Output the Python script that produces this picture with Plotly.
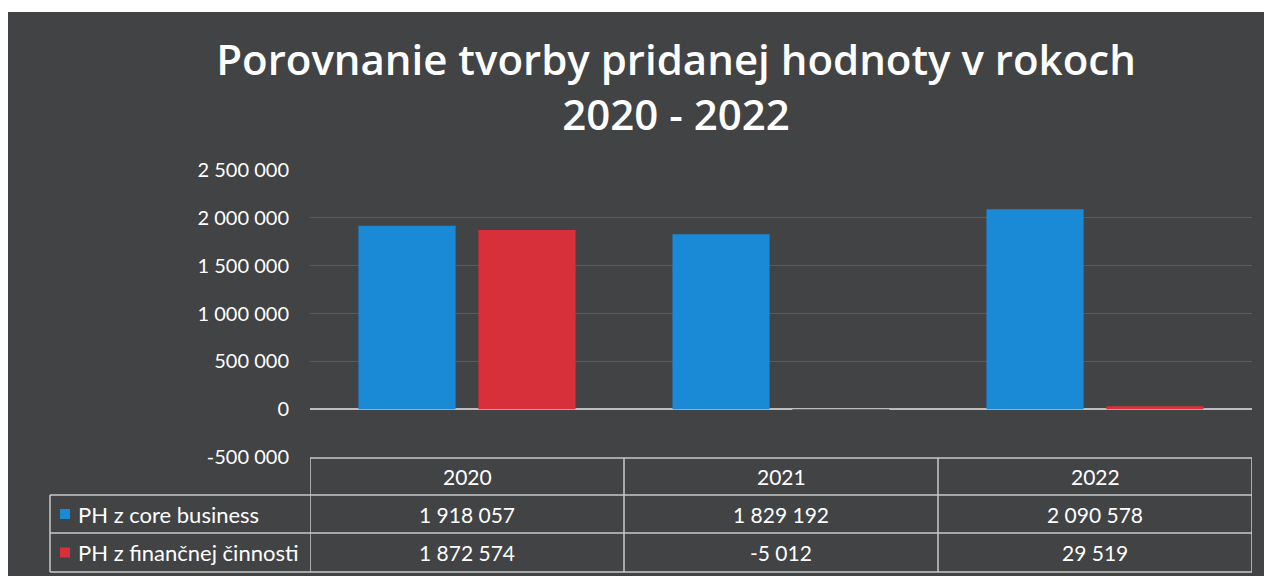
import plotly.graph_objects as go

# ---- data ----
years = ["2020", "2021", "2022"]
series_names = ["PH z core business", "PH z finančnej činnosti"]
core_business = [1918057, 1829192, 2090578]
financial = [1872574, -5012, 29519]
y_ticks = [-500000, 0, 500000, 1000000, 1500000, 2000000, 2500000]

title_text = "Porovnanie tvorby pridanej hodnoty v rokoch<br>2020 - 2022"

BLUE = "#1b8ad6"
RED = "#d8303b"
BG = "#414345"
FONT = "Lato"


def fmt(v):
    return f"{v:,}".replace(",", " ")


# page adds an 8px body margin, so the figure is laid out in (reference - 8) px
OFF = 8
W, H = 1264, 568
L, R, T, B = 302, 20, 162, 119
PW, PH_ = W - L - R, H - T - B


def px_x(px):
    return (px - OFF - L) / PW


def px_y(py):
    return (H - B - (py - OFF)) / PH_


fig = go.Figure()
fig.add_trace(go.Bar(x=years, y=core_business, name=series_names[0],
                     marker=dict(color=BLUE, line=dict(width=0))))
fig.add_trace(go.Bar(x=years, y=financial, name=series_names[1],
                     marker=dict(color=RED, line=dict(width=0))))

shapes = []
# dark background (scan area)
shapes.append(dict(type="rect", xref="paper", yref="paper",
                   x0=px_x(8), x1=px_x(1290), y0=px_y(600), y1=px_y(12),
                   fillcolor=BG, line=dict(width=0), layer="below"))

line_style = dict(color="#c8c8c8", width=1.5)
row_lines = [458, 495, 533, 572]
# horizontal table lines
shapes.append(dict(type="line", xref="x", yref="paper", x0=-0.5, x1=len(years) - 0.5,
                   y0=px_y(row_lines[0]), y1=px_y(row_lines[0]), line=line_style))
for ry in row_lines[1:]:
    shapes.append(dict(type="line", xref="paper", yref="paper", x0=px_x(50), x1=1,
                       y0=px_y(ry), y1=px_y(ry), line=line_style))
# vertical table lines
for i in range(len(years) + 1):
    shapes.append(dict(type="line", xref="x", yref="paper", x0=i - 0.5, x1=i - 0.5,
                       y0=px_y(row_lines[0]), y1=px_y(row_lines[-1]), line=line_style))
shapes.append(dict(type="line", xref="paper", yref="paper", x0=px_x(50), x1=px_x(50),
                   y0=px_y(row_lines[1]), y1=px_y(row_lines[-1]), line=line_style))

annotations = []
num_font = dict(family=FONT, size=21, color="white")
label_font = dict(family=FONT, size=22, color="white")
# header
for i, yr in enumerate(years):
    annotations.append(dict(x=i, y=px_y((row_lines[0] + row_lines[1]) / 2), xref="x", yref="paper",
                            text=yr, showarrow=False, font=num_font, xanchor="center", yanchor="middle"))
# rows
for r, (name, vals, col) in enumerate([(series_names[0], core_business, BLUE),
                                       (series_names[1], financial, RED)]):
    yc = (row_lines[r + 1] + row_lines[r + 2]) / 2
    annotations.append(dict(x=px_x(76), y=px_y(yc), xref="paper", yref="paper", text=name,
                            showarrow=False, font=label_font, xanchor="left", yanchor="middle"))
    shapes.append(dict(type="rect", xref="paper", yref="paper",
                       x0=px_x(60), x1=px_x(70), y0=px_y(yc + 5), y1=px_y(yc - 5),
                       fillcolor=col, line=dict(width=0)))
    for i, v in enumerate(vals):
        annotations.append(dict(x=i, y=px_y(yc), xref="x", yref="paper", text=fmt(v),
                                showarrow=False, font=num_font, xanchor="center", yanchor="middle"))

fig.update_layout(
    width=W, height=H,
    margin=dict(l=L, r=R, t=T, b=B, autoexpand=False),
    paper_bgcolor="white",
    plot_bgcolor="rgba(0,0,0,0)",
    showlegend=False,
    barmode="group",
    bargap=0.236,
    bargroupgap=0.19,
    title=dict(text=title_text, x=(676 - OFF) / W, xanchor="center", xref="container",
               y=1 - (75 - OFF) / H, yanchor="middle", yref="container",
               font=dict(family="Open Sans", size=42, color="white", weight=600)),
    font=dict(family=FONT, color="white"),
    xaxis=dict(range=[-0.5, len(years) - 0.5], showticklabels=False, showgrid=False,
               zeroline=False, showline=False, ticks=""),
    yaxis=dict(range=[y_ticks[0], y_ticks[-1]], tickvals=y_ticks,
               ticktext=[fmt(v) for v in y_ticks],
               showgrid=True, gridcolor="#595b5d", gridwidth=1,
               zeroline=True, zerolinecolor="#bdbdbd", zerolinewidth=2,
               showline=False, ticks="", ticklabelstandoff=20,
               tickfont=dict(family=FONT, size=20, color="white")),
    shapes=shapes,
    annotations=annotations,
)

fig.write_html("out.html")
